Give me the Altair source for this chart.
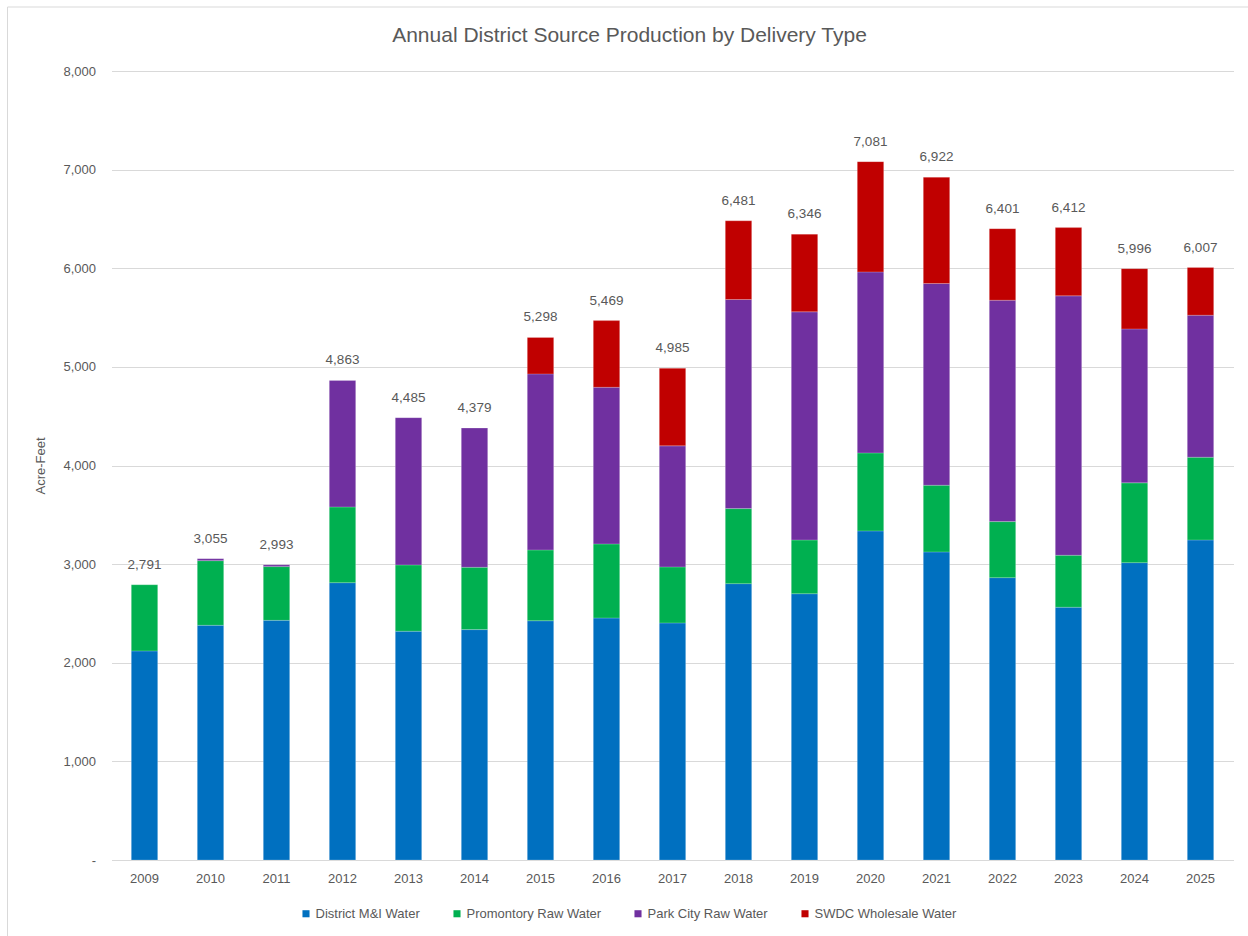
import altair as alt
import pandas as pd

years = [str(y) for y in range(2009, 2026)]
series = ["District M&I Water", "Promontory Raw Water", "Park City Raw Water", "SWDC Wholesale Water"]
colors = ["#0070C0", "#00B050", "#7030A0", "#C00000"]

district = [2120, 2380, 2430, 2812, 2320, 2336, 2426, 2454, 2404, 2802, 2700, 3337, 3124, 2863, 2563, 3015, 3245]
promontory = [671, 655, 545, 768, 672, 632, 718, 751, 568, 761, 545, 791, 676, 568, 527, 809, 839]
parkcity = [0, 20, 18, 1283, 1493, 1411, 1785, 1588, 1227, 2120, 2313, 1835, 2045, 2245, 2630, 1561, 1440]
swdc = [0, 0, 0, 0, 0, 0, 369, 676, 786, 798, 788, 1118, 1077, 725, 692, 611, 483]
totals = [2791, 3055, 2993, 4863, 4485, 4379, 5298, 5469, 4985, 6481, 6346, 7081, 6922, 6401, 6412, 5996, 6007]

rows = []
for si, (name, vals) in enumerate(zip(series, [district, promontory, parkcity, swdc])):
    for y, v in zip(years, vals):
        if v > 0:
            rows.append({"year": y, "series": name, "value": v, "ord": si})
df = pd.DataFrame(rows)
tot_df = pd.DataFrame({"year": years, "total": totals})

FONT = "Liberation Sans"
GRAY = "#595959"

x_enc = alt.X(
    "year:N",
    sort=years,
    title=None,
    scale=alt.Scale(paddingInner=0.6, paddingOuter=0.3),
    axis=alt.Axis(
        labelAngle=0, ticks=False, domainColor="#D9D9D9", domainWidth=1,
        labelColor=GRAY, labelFontSize=13, labelFont=FONT, labelPadding=12, grid=False,
    ),
)

bars = alt.Chart(df).mark_bar(stroke="#ffffff", strokeWidth=0.4, strokeOpacity=0.5).encode(
    x=x_enc,
    y=alt.Y(
        "value:Q",
        stack="zero",
        scale=alt.Scale(domain=[0, 8000], nice=False),
        axis=alt.Axis(
            values=list(range(0, 8001, 1000)),
            labelExpr="datum.value == 0 ? '-' : format(datum.value, ',')",
            grid=True, gridColor="#D9D9D9", gridWidth=1,
            domain=False, ticks=False,
            labelColor=GRAY, labelFontSize=13, labelFont=FONT, labelPadding=16,
            title="Acre-Feet", titleColor=GRAY, titleFontSize=13, titleFont=FONT,
            titleFontWeight="normal", titlePadding=15,
        ),
    ),
    color=alt.Color(
        "series:N",
        sort=series,
        scale=alt.Scale(domain=series, range=colors),
        legend=alt.Legend(
            title=None, orient="none", direction="horizontal", columns=4,
            legendX=188, legendY=836, symbolType="square", symbolSize=50,
            symbolStrokeWidth=0, labelFontSize=13, labelColor=GRAY,
            labelFont="'Liberation Sans Narrow', 'Liberation Sans', sans-serif",
            columnPadding=30, labelOffset=3, padding=0,
        ),
    ),
    order=alt.Order("ord:Q", sort="ascending"),
)

labels = alt.Chart(tot_df).mark_text(
    baseline="middle", dy=-20, fontSize=13.5, font=FONT, color=GRAY
).encode(
    x=alt.X("year:N", sort=years),
    y=alt.Y("total:Q"),
    text=alt.Text("total:Q", format=","),
)

border = alt.Chart(alt.Data(values=[{}])).mark_rect(
    fill="transparent", stroke="#D9D9D9", strokeWidth=1
).encode(
    x=alt.value(-104), x2=alt.value(1300), y=alt.value(-64), y2=alt.value(1000)
)

chart = alt.layer(border, bars, labels).properties(
    width=1122,
    height=789,
    title=alt.TitleParams(
        "Annual District Source Production by Delivery Type",
        fontSize=21, font=FONT, fontWeight="normal", color=GRAY,
        anchor="middle", dx=-43, offset=0, dy=39,
    ),
    autosize=alt.AutoSizeParams(type="none"),
    padding={"left": 111.5, "top": 71, "right": 14.5, "bottom": 76},
).configure_view(stroke="transparent")

chart.save("out.html", embed_options={"renderer": "svg", "actions": False})
